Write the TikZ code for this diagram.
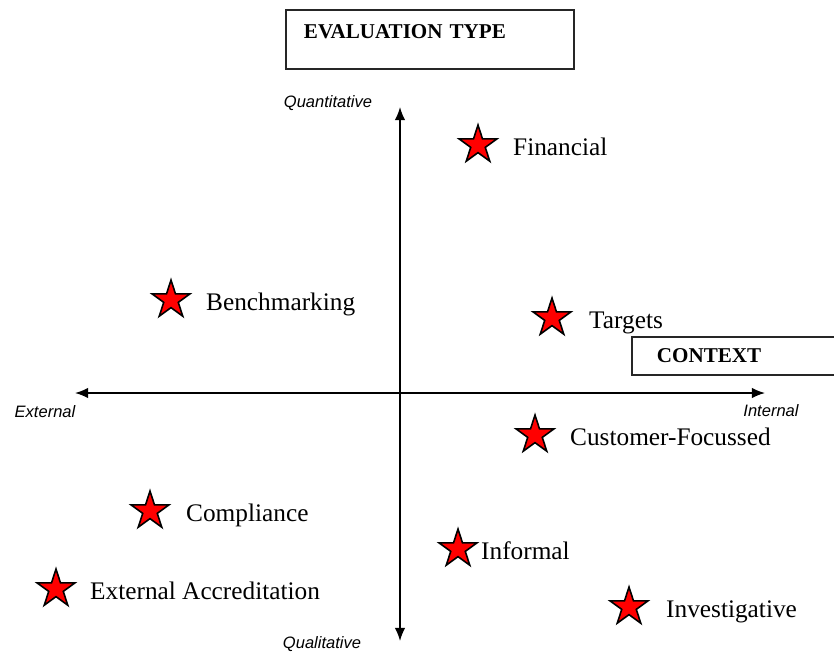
\documentclass[tikz,border=0pt]{standalone}
\usepackage{fontspec}
\setmainfont{Liberation Serif}
\setsansfont{Liberation Sans}
\usepackage{tikz}
\usetikzlibrary{arrows.meta,positioning,shapes.geometric}
\definecolor{starRed}{RGB}{255,0,0}

\begin{document}
\begin{tikzpicture}[x=0.02cm, y=-0.02cm, >={Latex[length=7.5pt,width=6pt]}]
\tikzstyle{frame}=[draw=black!85, line width=1.1pt, font=\fontsize{12}{14}\selectfont\bfseries, align=left, anchor=north west]
\tikzstyle{axis}=[<->, line width=0.85pt]
\tikzstyle{pole}=[font=\fontsize{9.4}{11}\selectfont\sffamily\itshape, inner sep=0pt]
\tikzstyle{mark star}=[star, star points=5, star point ratio=2.618, minimum size=0.8cm, inner sep=0pt, draw=black, line width=0.9pt, fill=starRed]
\tikzstyle{item}=[font=\fontsize{14.4}{17}\selectfont, text height=11.5pt, text depth=0pt, inner xsep=0pt]

\useasboundingbox (0,0) rectangle (834,653);
\clip (0,0) rectangle (834,653);

% headings
\node[frame, minimum width=5.76cm, minimum height=1.18cm, inner xsep=0.36cm, text width=5.04cm, text height=8pt, text depth=9.6pt] (evaltype) at (285,9) {EVALUATION TYPE};
\node[frame, minimum width=5cm, minimum height=0.76cm, inner xsep=0.34cm, text width=4cm] (context) at (631,336) {CONTEXT};

% axes
\coordinate (qn) at (400,107);
\coordinate (ql) at (400,641);
\coordinate (ex) at (75,393);
\coordinate (in) at (765,393);
\draw[axis] (ql) -- (qn);
\draw[axis] (ex) -- (in);
\node[pole] (qnlbl) at (328,103) {Quantitative};
\node[pole] (qllbl) at (322,644) {Qualitative};
\node[pole] (exlbl) at (45,412) {External};
\node[pole] (inlbl) at (771,411) {Internal};

% evaluation methods: name/x/y/gap to label/text
\foreach \n/\x/\y/\g/\t in {fin/478/145/0.46/Financial, bench/171/300/0.46/Benchmarking, targ/552/318/0.5/Targets,
    cust/535/435/0.46/Customer-Focussed, comp/150/511/0.48/Compliance, inf/458/549/0.22/Informal,
    acc/56/589/0.44/External Accreditation, inv/629/607/0.5/Investigative}{
  \node[mark star] (\n) at (\x,\y) {};
  \node[item, right=\g cm of \n] (\n-lbl) {\t};
}
\end{tikzpicture}
\end{document}
